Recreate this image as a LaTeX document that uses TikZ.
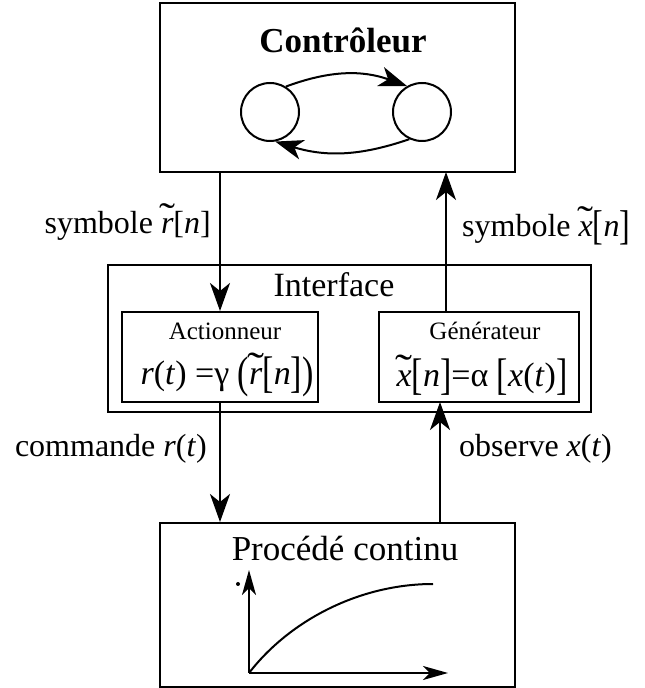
\documentclass[tikz,border=0pt]{standalone}
\usepackage{fontspec}
\setmainfont{Liberation Serif}
\usepackage{graphicx}
\usetikzlibrary{arrows.meta}
\newcommand\tlde[1]{\setbox0=\hbox{\itshape #1}\rlap{\hbox to \wd0{\hss\raisebox{0.12em}{\scalebox{1.5}[1.2]{\upshape\char"02DC}}\hss}}\box0}
\newcommand\bd[1]{\raisebox{-0.1em}{\scalebox{1}[1.3]{#1}}}
\begin{document}
\begin{tikzpicture}[x=1pt,y=1pt,
  box/.style={draw, line width=2pt, inner sep=0pt},
  arr/.style={line width=2pt, -{Stealth[length=28pt 0,width=20pt 0,inset=8pt 0]}},
  axarr/.style={line width=2pt, -{Stealth[length=25pt 0,width=14pt 0,inset=7pt 0]}},
  lbl/.style={inner sep=0pt, font=\fontsize{32}{36}\selectfont},
  ttl/.style={inner sep=0pt, font=\fontsize{34}{38}\selectfont},
  sub/.style={inner sep=0pt, font=\fontsize{25}{28}\selectfont},
  frm/.style={inner sep=0pt, font=\fontsize{34}{38}\selectfont},
  st/.style={circle, draw, line width=2pt, minimum size=58pt, inner sep=0pt}]
\useasboundingbox (0,0) rectangle (645,688);
% boxes
\node[box, minimum width=355pt, minimum height=169pt] (ctrl) at (337.5,600.5) {};
\node[box, minimum width=483pt, minimum height=147pt] (iface) at (349.5,349.5) {};
\node[box, minimum width=196pt, minimum height=90pt] (act) at (220,331) {};
\node[box, minimum width=200pt, minimum height=90pt] (gen) at (479,331) {};
\node[box, minimum width=355pt, minimum height=164pt] (proc) at (337.5,83) {};
% titles
\node[ttl, font=\bfseries\fontsize{35}{40}\selectfont] (tctrl) at (343,648) {Contrôleur};
\node[ttl] (tif) at (334,403) {Interface};
\node[sub] (tact) at (225,357) {Actionneur};
\node[sub] (tgen) at (485,357) {Générateur};
\node[frm] (fact) at (227,313) {\textit{r}(\textit{t}) =γ \bd{(}\tlde{r}\bd{[}\textit{n}\bd{]}\bd{)}};
\node[frm] (fgen) at (482,313) {\tlde{x}\bd{[}\textit{n}\bd{]}=α \bd{[}\textit{x}(\textit{t})\bd{]}};
\node[ttl, font=\fontsize{35}{40}\selectfont] (tproc) at (345,139) {Procédé continu};
% states
\node[st] (c1) at (270,576) {};
\node[st] (c2) at (422,576) {};
\draw[arr] (c1.58) to[bend left=20] (c2.120);
\draw[arr] (c2.245) to[bend left=18] (c1.280);
% connectors
\coordinate (up1) at (446,516);
\coordinate (up0) at (446,376);
\coordinate (lo1) at (440,286);
\coordinate (lo0) at (440,165);
\draw[arr] (ctrl.south -| act.north) -- (act.north);
\draw[arr] (up0) -- (up1);
\draw[arr] (act.south) -- (act.south |- proc.north);
\draw[arr] (lo0) -- (lo1);
% labels
\node[lbl, anchor=east] (l1) at (211,466) {symbole \tlde{r}[\textit{n}]};
\node[lbl, anchor=west] (l2) at (462,462) {symbole \tlde{x}\bd{[}\textit{n}\bd{]}};
\node[lbl, anchor=east] (l3) at (207,239) {commande \textit{r}(\textit{t})};
\node[lbl, anchor=west] (l4) at (459,239) {observe \textit{x}(\textit{t})};
% plot
\coordinate (o) at (249,15);
\coordinate (ya) at (249,118);
\coordinate (xa) at (448,15);
\draw[axarr] (o) -- (ya);
\draw[axarr] (o) -- (xa);
\draw[line width=2pt] (o) .. controls (290,68) and (360,104) .. (433,104);
\fill (238,104) circle (2pt);
\end{tikzpicture}
\end{document}
